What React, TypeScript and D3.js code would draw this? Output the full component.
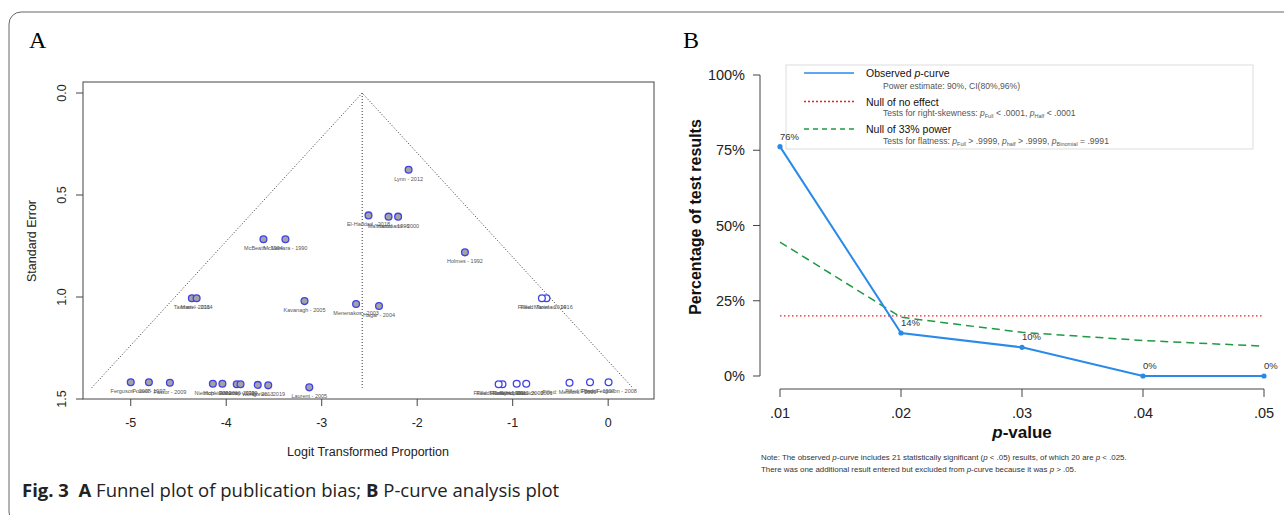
import React from 'react';
import * as d3 from 'd3';

// ---- Panel A: funnel plot (observed studies) ----
const studyNames = [
  'Lynn - 2012', 'El-Haddad - 2018', 'Mahmood - 1996', 'Hammami - 2000',
  'McBeath - 1994', 'McNamara - 1990', 'Holmes - 1992',
  'Taxman - 2016', 'Mariel - 2014', 'Kavanagh - 2005', 'Menenakos - 2003', 'Hagar - 2004',
  'Ferguson - 2008', 'Powell - 1997', 'Pastor - 2009',
  'Nieblich - 2001', 'Hopkins - 2006', 'Roberts - 2011', 'Murray - 1999',
  'Wong - 2013', 'Obrien - 2019', 'Laurent - 2005'
];
const studyLogit = [
  -2.09, -2.51, -2.30, -2.20,
  -3.61, -3.38, -1.50,
  -4.36, -4.31, -3.18, -2.64, -2.40,
  -5.00, -4.81, -4.59,
  -4.14, -4.04, -3.89, -3.85,
  -3.67, -3.56, -3.13
];
const studySE = [
  0.376, 0.600, 0.606, 0.606,
  0.717, 0.717, 0.781,
  1.006, 1.006, 1.020, 1.034, 1.044,
  1.418, 1.418, 1.420,
  1.425, 1.425, 1.428, 1.428,
  1.431, 1.433, 1.443
];

// ---- Panel A: imputed (trim and fill) studies ----
const filledNames = [
  'Filled: Taxman - 2016', 'Filled: Mariel - 2014',
  'Filled: Ferguson - 2008', 'Filled: Powell - 1997', 'Filled: Mellifont - 2009',
  'Filled: Nieblich - 2001', 'Filled: Hopkins - 2006', 'Filled: Roberts - 2011', 'Filled: Murray - 1999'
];
const filledLogit = [-0.646, -0.694, 0.004, -0.19, -0.405, -0.858, -0.958, -1.107, -1.147];
const filledSE = [1.006, 1.006, 1.418, 1.418, 1.420, 1.425, 1.425, 1.428, 1.428];

const funnelCenter = -2.576;
const funnelMaxSE = 1.445;
const logitTicks = [-5, -4, -3, -2, -1, 0];
const seTicks = [0, 0.5, 1.0, 1.5];

// ---- Panel B: p-curve ----
const pBins = [0.01, 0.02, 0.03, 0.04, 0.05];
const pBinLabels = ['.01', '.02', '.03', '.04', '.05'];
const observedPct = [76.19, 14.29, 9.52, 0, 0];
const observedLabels = ['76%', '14%', '10%', '0%', '0%'];
const nullEffectPct = [20, 20, 20, 20, 20];
const null33Pct = [44.5, 19.5, 14.5, 11.8, 9.9];
const pctTicks = [0, 25, 50, 75, 100];

const SANS = '"Liberation Sans", Arial, sans-serif';
const RED = '#ee1c24';
const GREEN = '#1e9a45';
const BLUE = '#2a8ae8';

const App = () => {
  const svgRef = React.useRef(null);

  React.useEffect(() => {
    const svg = d3.select(svgRef.current);
    svg.selectAll('*').remove();

    // outer frame with rounded corner
    svg.append('rect')
      .attr('x', 9).attr('y', 12)
      .attr('width', 1300).attr('height', 512)
      .attr('rx', 12).attr('ry', 12)
      .attr('fill', 'white')
      .attr('stroke', '#666').attr('stroke-width', 1);

    svg.append('text').attr('x', 29).attr('y', 48)
      .style('font-family', '"Liberation Serif", "Times New Roman", serif')
      .style('font-size', '24px').text('A');
    svg.append('text').attr('x', 683).attr('y', 48)
      .style('font-family', '"Liberation Serif", "Times New Roman", serif')
      .style('font-size', '24px').text('B');

    // ================= Panel A =================
    const x = d3.scaleLinear().domain([-5.5, 0.48]).range([83, 654]);
    const y = d3.scaleLinear().domain([-0.054, 1.5]).range([82, 399]);
    const a = svg.append('g').style('font-family', SANS);

    a.append('rect')
      .attr('x', x(-5.5)).attr('y', y(-0.054))
      .attr('width', x(0.48) - x(-5.5)).attr('height', y(1.5) - y(-0.054))
      .attr('fill', 'none').attr('stroke', '#444').attr('stroke-width', 1);

    // funnel
    const funnel = [
      [funnelCenter - 1.96 * funnelMaxSE, funnelMaxSE],
      [funnelCenter, 0],
      [funnelCenter + 1.96 * funnelMaxSE, funnelMaxSE]
    ];
    a.append('path')
      .attr('d', d3.line().x(d => x(d[0])).y(d => y(d[1]))(funnel))
      .attr('fill', 'none').attr('stroke', '#333')
      .attr('stroke-width', 1).attr('stroke-dasharray', '1,2');
    a.append('line')
      .attr('x1', x(funnelCenter)).attr('x2', x(funnelCenter))
      .attr('y1', y(0)).attr('y2', y(funnelMaxSE))
      .attr('stroke', '#333').attr('stroke-width', 1).attr('stroke-dasharray', '1,2');

    // axes
    a.selectAll('.xt').data(logitTicks).join('line')
      .attr('x1', d => x(d)).attr('x2', d => x(d))
      .attr('y1', y(1.5)).attr('y2', y(1.5) + 7)
      .attr('stroke', '#444');
    a.selectAll('.xl').data(logitTicks).join('text')
      .attr('x', d => x(d)).attr('y', 427)
      .attr('text-anchor', 'middle')
      .style('font-size', '12.5px').attr('fill', '#222')
      .text(d => d);
    a.selectAll('.yt').data(seTicks).join('line')
      .attr('x1', x(-5.5) - 7).attr('x2', x(-5.5))
      .attr('y1', d => y(d)).attr('y2', d => y(d))
      .attr('stroke', '#444');
    a.selectAll('.yl').data(seTicks).join('text')
      .attr('transform', d => `translate(66,${y(d)}) rotate(-90)`)
      .attr('text-anchor', 'middle')
      .style('font-size', '12.5px').attr('fill', '#222')
      .text(d => d.toFixed(1));
    a.append('text')
      .attr('x', 368).attr('y', 456).attr('text-anchor', 'middle')
      .style('font-size', '12.5px').attr('fill', '#222')
      .text('Logit Transformed Proportion');
    a.append('text')
      .attr('transform', 'translate(36,241) rotate(-90)')
      .attr('text-anchor', 'middle')
      .style('font-size', '12.5px').attr('fill', '#222')
      .text('Standard Error');

    // labels first, points on top
    const labels = a.append('g')
      .style('font-size', '5.5px').attr('fill', '#555').attr('text-anchor', 'middle');
    labels.selectAll('.sl').data(studyNames).join('text')
      .attr('x', (d, i) => x(studyLogit[i]))
      .attr('y', (d, i) => y(studySE[i]) + 11)
      .text(d => d);
    labels.selectAll('.fl').data(filledNames).join('text')
      .attr('x', (d, i) => x(filledLogit[i]))
      .attr('y', (d, i) => y(filledSE[i]) + 11)
      .text(d => d);

    a.selectAll('.sp').data(studyLogit).join('circle')
      .attr('cx', d => x(d))
      .attr('cy', (d, i) => y(studySE[i]))
      .attr('r', 3.4)
      .attr('fill', '#a3a3a3')
      .attr('stroke', '#4040e8').attr('stroke-width', 1.3);
    a.selectAll('.fp').data(filledLogit).join('circle')
      .attr('cx', d => x(d))
      .attr('cy', (d, i) => y(filledSE[i]))
      .attr('r', 3.4)
      .attr('fill', 'white')
      .attr('stroke', '#4040e8').attr('stroke-width', 1.3);

    // ================= Panel B =================
    const px = d3.scaleLinear().domain([0.01, 0.05]).range([780, 1264]);
    const py = d3.scaleLinear().domain([0, 100]).range([376, 75]);
    const b = svg.append('g').style('font-family', SANS);

    // legend (drawn under the data labels)
    const lg = b.append('g');
    lg.append('rect').attr('x', 786).attr('y', 65).attr('width', 467).attr('height', 84)
      .attr('fill', 'white').attr('stroke', '#ddd');
    lg.append('line').attr('x1', 804).attr('x2', 854).attr('y1', 73).attr('y2', 73)
      .attr('stroke', BLUE).attr('stroke-width', 1.5);
    lg.append('line').attr('x1', 804).attr('x2', 854).attr('y1', 101.5).attr('y2', 101.5)
      .attr('stroke', RED).attr('stroke-width', 1.5).attr('stroke-dasharray', '2,2');
    lg.append('line').attr('x1', 804).attr('x2', 854).attr('y1', 129).attr('y2', 129)
      .attr('stroke', GREEN).attr('stroke-width', 1.5).attr('stroke-dasharray', '5,4');

    const main = (yy, parts) => {
      const t = lg.append('text').attr('x', 866).attr('y', yy + 4)
        .style('font-size', '10.5px').attr('fill', '#111');
      parts.forEach(p => t.append('tspan').style('font-style', p.i ? 'italic' : 'normal').text(p.t));
    };
    main(73, [{ t: 'Observed ' }, { t: 'p', i: true }, { t: '-curve' }]);
    main(101.5, [{ t: 'Null of no effect' }]);
    main(129, [{ t: 'Null of 33% power' }]);

    const sub = (yy, parts) => {
      const t = lg.append('text').attr('x', 883).attr('y', yy + 3)
        .style('font-size', '8.6px').attr('fill', '#555');
      parts.forEach(p => {
        const s = t.append('tspan').text(p.t);
        if (p.i) s.style('font-style', 'italic');
        if (p.s) s.style('font-size', '5.5px').attr('dy', 2);
        if (p.up) s.attr('dy', -2);
      });
    };
    sub(86, [{ t: 'Power estimate: 90%, CI(80%,96%)' }]);
    sub(113, [
      { t: 'Tests for right-skewness: ' }, { t: 'p', i: true }, { t: 'Full', s: true },
      { t: ' < .0001,  ', up: true }, { t: 'p', i: true }, { t: 'Half', s: true }, { t: ' < .0001', up: true }
    ]);
    sub(140.5, [
      { t: 'Tests for flatness: ' }, { t: 'p', i: true }, { t: 'Full', s: true },
      { t: ' > .9999,  ', up: true }, { t: 'p', i: true }, { t: 'half', s: true },
      { t: ' > .9999,  ', up: true }, { t: 'p', i: true }, { t: 'Binomial', s: true }, { t: ' = .9991', up: true }
    ]);

    // y axis
    b.append('line').attr('x1', 760).attr('x2', 760)
      .attr('y1', py(0)).attr('y2', py(100)).attr('stroke', '#444');
    b.selectAll('.pyt').data(pctTicks).join('line')
      .attr('x1', 753).attr('x2', 760)
      .attr('y1', d => py(d)).attr('y2', d => py(d)).attr('stroke', '#444');
    b.selectAll('.pyl').data(pctTicks).join('text')
      .attr('x', 745).attr('y', d => py(d) + 5)
      .attr('text-anchor', 'end')
      .style('font-size', '14.5px').attr('fill', '#222')
      .text(d => d + '%');
    b.append('text')
      .attr('transform', 'translate(701,217) rotate(-90)')
      .attr('text-anchor', 'middle')
      .style('font-size', '16px').style('font-weight', 'bold').attr('fill', '#111')
      .text('Percentage of test results');

    // x axis
    b.append('line').attr('x1', px(0.01)).attr('x2', px(0.05))
      .attr('y1', 389).attr('y2', 389).attr('stroke', '#444');
    b.selectAll('.pxt').data(pBins).join('line')
      .attr('x1', d => px(d)).attr('x2', d => px(d))
      .attr('y1', 389).attr('y2', 397).attr('stroke', '#444');
    b.selectAll('.pxl').data(pBinLabels).join('text')
      .attr('x', (d, i) => px(pBins[i])).attr('y', 418)
      .attr('text-anchor', 'middle')
      .style('font-size', '14.5px').attr('fill', '#222')
      .text(d => d);
    const xt = b.append('text')
      .attr('x', px(0.03)).attr('y', 438).attr('text-anchor', 'middle')
      .style('font-size', '17px').style('font-weight', 'bold').attr('fill', '#111');
    xt.append('tspan').style('font-style', 'italic').text('p');
    xt.append('tspan').text('-value');

    // lines
    const line = d3.line().x((d, i) => px(pBins[i])).y(d => py(d));
    b.append('path').attr('d', line(nullEffectPct))
      .attr('fill', 'none').attr('stroke', RED)
      .attr('stroke-width', 1.3).attr('stroke-dasharray', '1.5,2.5');
    b.append('path').attr('d', line(null33Pct))
      .attr('fill', 'none').attr('stroke', GREEN)
      .attr('stroke-width', 1.5).attr('stroke-dasharray', '8,5');
    b.append('path').attr('d', line(observedPct))
      .attr('fill', 'none').attr('stroke', BLUE).attr('stroke-width', 2);
    b.selectAll('.op').data(observedPct).join('circle')
      .attr('cx', (d, i) => px(pBins[i])).attr('cy', d => py(d))
      .attr('r', 2.6).attr('fill', BLUE);
    b.selectAll('.olab').data(observedLabels).join('text')
      .attr('x', (d, i) => px(pBins[i])).attr('y', (d, i) => py(observedPct[i]) - 7)
      .style('font-size', '9.5px').attr('fill', '#333')
      .text(d => d);

    // note
    const note = b.append('g').style('font-size', '7.9px').attr('fill', '#333');
    const n1 = note.append('text').attr('x', 761).attr('y', 459.5);
    [['Note: The observed ', 0], ['p', 1], ['-curve includes 21 statistically significant (', 0], ['p', 1],
      [' < .05) results, of which 20 are ', 0], ['p', 1], [' < .025.', 0]]
      .forEach(([t, i]) => n1.append('tspan').style('font-style', i ? 'italic' : 'normal').text(t));
    const n2 = note.append('text').attr('x', 761).attr('y', 472);
    [['There was one additional result entered but excluded from ', 0], ['p', 1],
      ['-curve because it was ', 0], ['p', 1], [' > .05.', 0]]
      .forEach(([t, i]) => n2.append('tspan').style('font-style', i ? 'italic' : 'normal').text(t));

    // caption
    const cap = svg.append('text').attr('x', 22).attr('y', 497)
      .style('font-family', '"Open Sans", "Noto Sans", sans-serif')
      .style('font-size', '18.5px').attr('fill', '#222');
    [['Fig. 3', 1], ['\u00a0\u00a0', 0], ['A', 1], [' Funnel plot of publication bias; ', 0], ['B', 1], [' P-curve analysis plot', 0]]
      .forEach(([t, bo]) => cap.append('tspan').style('font-weight', bo ? 'bold' : 'normal').text(t));
  }, []);

  return (
    <svg ref={svgRef} width={1284} height={515}
      style={{ position: 'absolute', left: 0, top: 0, background: 'white' }} />
  );
};

export default App;
